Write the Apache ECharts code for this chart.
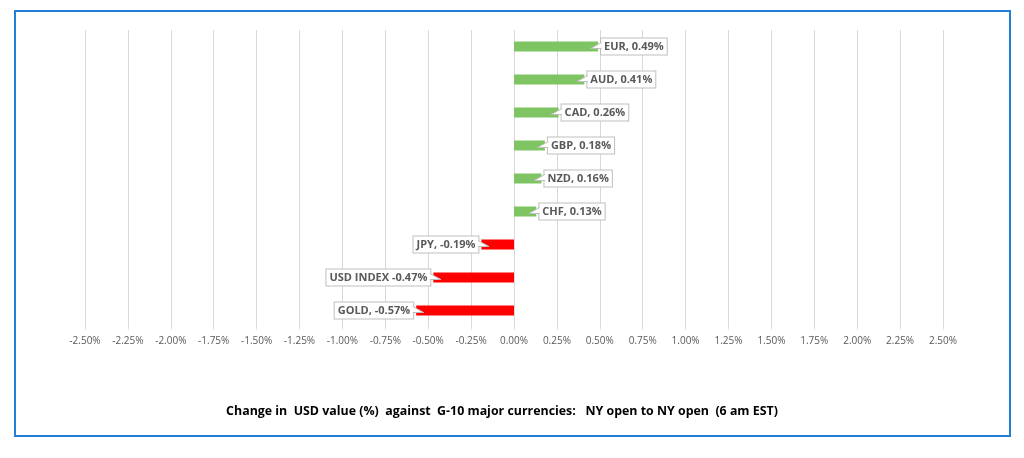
<!DOCTYPE html>
<html><head><meta charset="utf-8">
<script src="https://cdn.jsdelivr.net/npm/echarts@6/dist/echarts.min.js"></script>
<style>
html,body{margin:0;padding:0;background:#fff;}
#frame{position:absolute;left:14px;top:10px;width:993px;height:423px;border:2px solid #1f80d6;}
#c{position:absolute;left:0;top:0;width:1024px;height:458px;}
</style></head>
<body>
<div id="frame"></div>
<div id="c"></div>
<script>
const categories = ['EUR','AUD','CAD','GBP','NZD','CHF','JPY','USD INDEX','GOLD'];
const values = [0.49, 0.41, 0.26, 0.18, 0.16, 0.13, -0.19, -0.47, -0.57];
const labelTexts = ['EUR, 0.49%','AUD, 0.41%','CAD, 0.26%','GBP, 0.18%','NZD, 0.16%','CHF, 0.13%','JPY, -0.19%','USD INDEX -0.47%','GOLD, -0.57%'];
const xTicks = {min: -2.5, max: 2.5, interval: 0.25};
const titleText = 'Change in  USD value (%)  against  G-10 major currencies:   NY open to NY open  (6 am EST)';

const chart = echarts.init(document.getElementById('c'), null, {renderer:'canvas'});
const data = values.map((v, i) => ({
  value: v,
  itemStyle: {color: v >= 0 ? '#7ec462' : '#ff0000'},
  label: {
    show: true,
    position: v >= 0 ? 'right' : 'left',
    distance: 3,
    formatter: labelTexts[i],
    color: '#595959',
    fontWeight: 'bold',
    fontSize: 11,
    fontFamily: 'Open Sans',
    backgroundColor: '#fff',
    borderColor: '#bfbfbf',
    borderWidth: 1,
    padding: [3, 3, 2, 3]
  }
}));
chart.setOption({
  animation: false,
  title: {
    text: titleText,
    left: 497, top: 400, textAlign: 'center',
    textStyle: {fontSize: 12.4, fontWeight: 'bold', color: '#000', fontFamily: 'Open Sans'}
  },
  grid: {left: 85, right: 81, top: 30, bottom: 131, containLabel: false},
  xAxis: {
    type: 'value', min: xTicks.min, max: xTicks.max, interval: xTicks.interval,
    axisLine: {show: false},
    axisTick: {show: true, length: 3, lineStyle: {color: '#e6e6e6'}},
    splitLine: {show: true, lineStyle: {color: '#d9d9d9', width: 1}},
    axisLabel: {
      color: '#595959', fontSize: 10, fontFamily: 'Open Sans', margin: 9,
      formatter: v => v.toFixed(2) + '%'
    }
  },
  yAxis: {
    type: 'category', data: categories, inverse: true,
    axisLine: {show: false}, axisTick: {show: false}, axisLabel: {show: false},
    splitLine: {show: false}
  },
  series: [{
    type: 'bar', data: data, barWidth: 10, z: 2
  }, {
    type: 'custom', z: 3, silent: true,
    data: values.map((v, i) => [v, i]),
    encode: {x: 0, y: 1},
    renderItem: function (params, api) {
      const v = api.value(0);
      const p = api.coord([v, api.value(1)]);
      const s = v >= 0 ? 1 : -1;
      const bx = p[0] + s * 3.5, cy = p[1];
      const pts = [[bx, cy - 4], [bx - s * 11, cy + 2], [bx, cy + 2]];
      return {
        type: 'group',
        children: [
          {type: 'polygon', shape: {points: pts}, style: {fill: '#fff'}},
          {type: 'polyline', shape: {points: [[bx, cy - 4], [bx - s * 11, cy + 2], [bx, cy + 2]]},
           style: {stroke: '#bfbfbf', lineWidth: 1, fill: null}}
        ]
      };
    }
  }]
});
</script>
</body></html>
